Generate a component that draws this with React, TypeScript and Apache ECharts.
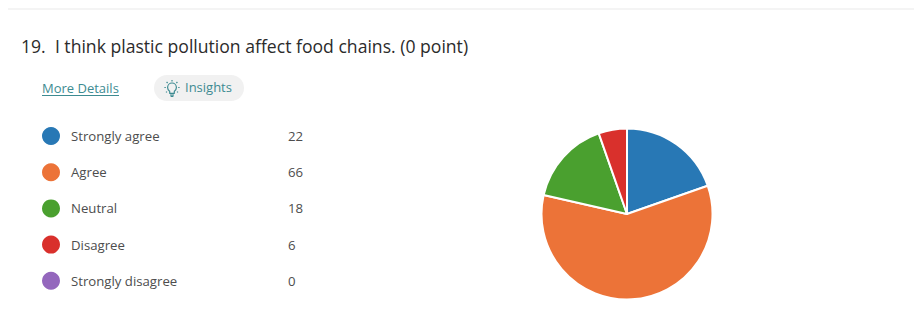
import React, { useEffect, useRef } from "react";
import * as echarts from "echarts";

const categories = ["Strongly agree", "Agree", "Neutral", "Disagree", "Strongly disagree"];
const responses = [22, 66, 18, 6, 0];
const sliceColors = ["#2878b5", "#ec7338", "#4aa02f", "#d9302c", "#9467bd"];
const questionTitle = "19.  I think plastic pollution affect food chains. (0 point)";
const detailsLabel = "More Details";
const insightsLabel = "Insights";

const FONT = '"Open Sans", "Noto Sans", sans-serif';
const TEAL = "#3d8b91";

echarts.graphic.registerShape(
  "insightBulb",
  echarts.graphic.extendPath(
    "M4.6 11.2C3.2 10.2 2.6 8.9 2.6 7.5C2.6 5 4.6 3 7 3C9.4 3 11.4 5 11.4 7.5C11.4 8.9 10.8 10.2 9.4 11.2L9.2 13.4L4.8 13.4ZM5 15L9 15M5.6 16.4L8.4 16.4M7 0L7 1.4M1.6 2L2.6 3M12.4 2L11.4 3M-0.6 7.5L0.8 7.5M13.2 7.5L14.6 7.5M1 12.4L2 11.6M13 12.4L12 11.6",
    {}
  )
);

export default function App() {
  const ref = useRef<HTMLDivElement>(null);

  useEffect(() => {
    const chart = echarts.init(ref.current!, undefined, { renderer: "svg" });
    chart.setOption({
      animation: false,
      backgroundColor: "#ffffff",
      color: sliceColors,
      title: {
        text: questionTitle,
        left: 21,
        top: 37,
        padding: 0,
        textStyle: { fontFamily: FONT, fontSize: 17.6, fontWeight: "normal", color: "#2b2b2b" },
      },
      legend: {
        orient: "vertical",
        left: 42,
        top: 127,
        padding: 0,
        icon: "circle",
        itemWidth: 18,
        itemHeight: 18,
        itemGap: 18.2,
        selectedMode: false,
        itemStyle: { borderWidth: 0 },
        data: categories,
        formatter: (name: string) => `{n|${name}}{v|${responses[categories.indexOf(name)]}}`,
        textStyle: {
          padding: [0, 0, 0, 1],
          rich: {
            n: { width: 217, lineHeight: 16, padding: [0, 0, 0, 5], fontFamily: FONT, fontSize: 13.2, color: "#4d4d4d" },
            v: { lineHeight: 16, fontFamily: FONT, fontSize: 13.2, color: "#4d4d4d" },
          },
        },
      },
      series: [
        {
          type: "pie",
          center: [627, 214],
          radius: [0, 85.5],
          startAngle: 90,
          clockwise: true,
          label: { show: false },
          labelLine: { show: false },
          emphasis: { disabled: true },
          itemStyle: { borderColor: "#ffffff", borderWidth: 2 },
          data: categories.map((name, i) => ({ name, value: responses[i] })),
        },
      ],
      graphic: [
        { type: "line", shape: { x1: 8, y1: 9, x2: 914, y2: 9 }, style: { stroke: "#f0f0f0", lineWidth: 1.5 } },
        {
          type: "text",
          x: 42,
          y: 81,
          style: { text: detailsLabel, fontFamily: FONT, fontSize: 13, fill: TEAL },
        },
        { type: "line", shape: { x1: 42, y1: 95.5, x2: 119, y2: 95.5 }, style: { stroke: TEAL, lineWidth: 1 } },
        {
          type: "rect",
          shape: { x: 154, y: 75, width: 90, height: 26, r: 13 },
          style: { fill: "#f1f1f1" },
        },
        {
          type: "insightBulb",
          x: 165,
          y: 80,
          style: { fill: "none", stroke: TEAL, lineWidth: 1.2 },
        },
        {
          type: "text",
          x: 185,
          y: 80,
          style: { text: insightsLabel, fontFamily: FONT, fontSize: 13, fill: TEAL },
        },
      ],
    });
    return () => chart.dispose();
  }, []);

  return <div ref={ref} style={{ position: "absolute", left: 0, top: 0, width: 914, height: 329 }} />;
}
